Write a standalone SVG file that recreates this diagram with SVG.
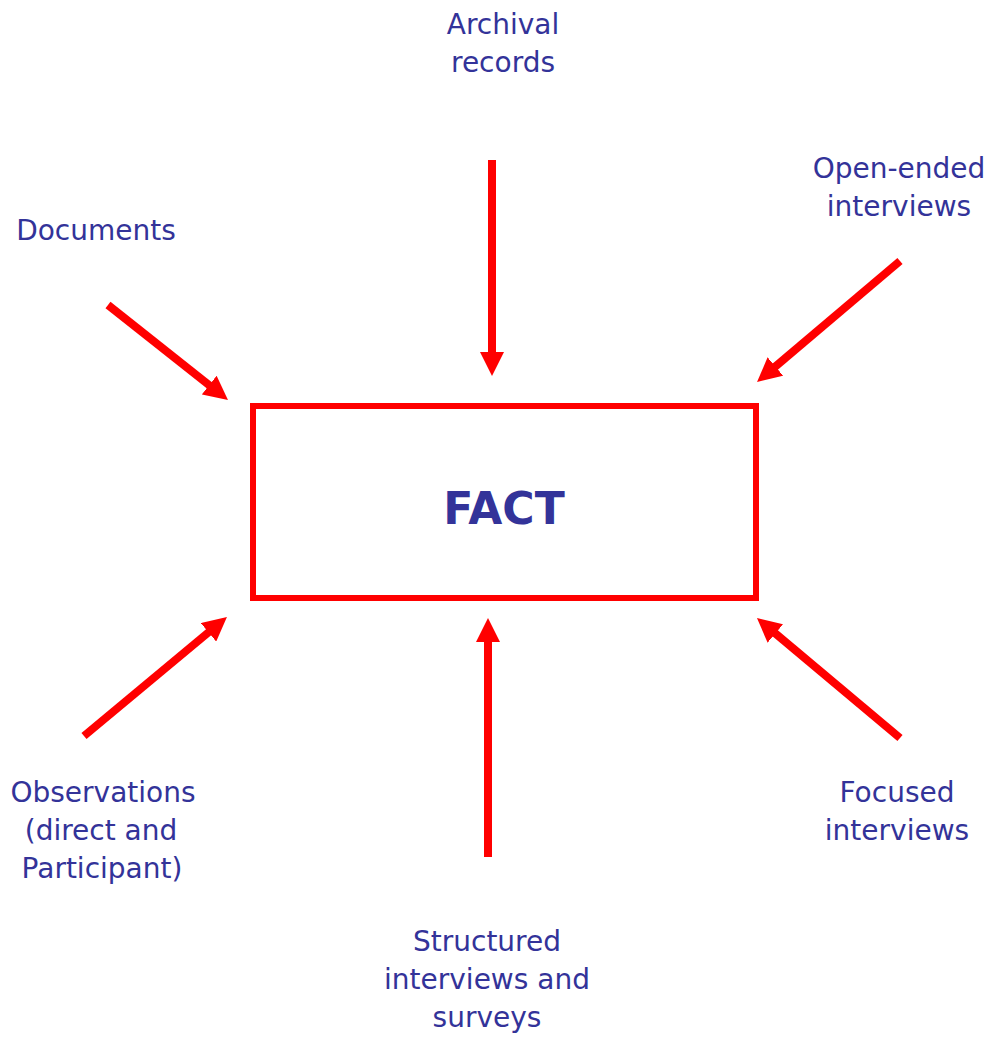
<svg xmlns="http://www.w3.org/2000/svg" width="992" height="1038" viewBox="0 0 992 1038">
<defs>
<marker id="ah" markerUnits="userSpaceOnUse" markerWidth="24" markerHeight="24" viewBox="0 0 24 24" refX="4" refY="12" orient="auto">
<path d="M0,0 L24,12 L0,24 z" fill="#ff0000"/>
</marker>
</defs>
<style>
.lbl{font-family:"DejaVu Sans","Verdana",sans-serif;font-size:28px;fill:#333399;text-anchor:middle}
.title{font-family:"DejaVu Sans","Verdana",sans-serif;font-size:44px;font-weight:bold;fill:#333399;text-anchor:middle}
.arr{stroke:#ff0000;stroke-width:8;fill:none;marker-end:url(#ah)}
</style>
<rect width="992" height="1038" fill="#ffffff"/>
<g id="fact">
<rect x="253" y="406" width="503" height="192" fill="none" stroke="#ff0000" stroke-width="6"/>
<text class="title" x="504" y="524">FACT</text>
</g>
<g id="archival">
<text class="lbl" x="503" y="34">Archival</text>
<text class="lbl" x="503" y="72">records</text>
</g>
<g id="documents">
<text class="lbl" x="96" y="240">Documents</text>
</g>
<g id="openended">
<text class="lbl" x="899" y="178">Open-ended</text>
<text class="lbl" x="899" y="216">interviews</text>
</g>
<g id="observations">
<text class="lbl" x="103" y="802">Observations</text>
<text class="lbl" x="101" y="840">(direct and</text>
<text class="lbl" x="102" y="878">Participant)</text>
</g>
<g id="focused">
<text class="lbl" x="897" y="802">Focused</text>
<text class="lbl" x="897" y="840">interviews</text>
</g>
<g id="structured">
<text class="lbl" x="487" y="951">Structured</text>
<text class="lbl" x="487" y="989">interviews and</text>
<text class="lbl" x="487" y="1027">surveys</text>
</g>
<g id="connectors">
<line class="arr" x1="108" y1="305" x2="212.3" y2="387.6"/>
<line class="arr" x1="492" y1="160" x2="492" y2="356"/>
<line class="arr" x1="900" y1="261" x2="772.3" y2="369.1"/>
<line class="arr" x1="84" y1="736" x2="211.6" y2="629.8"/>
<line class="arr" x1="488" y1="857" x2="488" y2="638"/>
<line class="arr" x1="900" y1="738" x2="772.3" y2="630.9"/>
</g>
</svg>
